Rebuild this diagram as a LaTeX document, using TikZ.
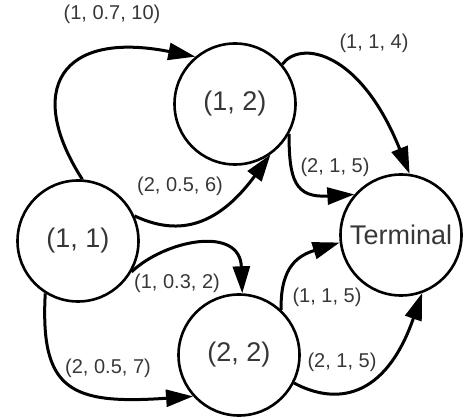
\documentclass[tikz,border=0pt]{standalone}
\usepackage{fontspec}
\setmainfont{Liberation Sans}
\usetikzlibrary{arrows.meta}
\definecolor{txt}{RGB}{55,55,55}
\tikzset{
  state/.style={circle, draw=black, line width=2.6pt, minimum size=121pt,
    inner sep=0pt, text=txt, font=\fontsize{27}{32}\selectfont},
  lbl/.style={inner sep=0pt, text=txt, font=\fontsize{20}{24}\selectfont},
  trans/.style={line width=3pt, draw=black,
    -{Triangle[length=27pt,width=17pt]}},
}
\begin{document}
\begin{tikzpicture}[x=1pt,y=-1pt]
\useasboundingbox (0,0) rectangle (463,419);

% states
\node[state] (n11) at (78,241) {(1, 1)};
\node[state] (n12) at (235,104) {(1, 2)};
\node[state] (n22) at (239,355) {(2, 2)};
\node[state] (nT)  at (401,235) {Terminal};

% transitions
\draw[trans] (n11.86) .. controls (25,90) and (60,30) .. (n12.130);
\draw[trans] (n11.24) .. controls (175,235) and (215,230) .. (n12.-55);
\draw[trans] (n12.40) .. controls (300,40) and (360,50) .. (nT.82);
\draw[trans] (n12.-29) .. controls (289,180) and (295,198) .. (nT.139);
\draw[trans] (n11.-30) .. controls (165,240) and (240,225) .. (n22.87);
\draw[trans] (n11.238) .. controls (40,390) and (70,405) .. (n22.222);
\draw[trans] (n22.47) .. controls (280,265) and (300,255) .. (nT.187);
\draw[trans] (n22.-27) .. controls (335,405) and (385,400) .. (nT.-70);

% transition labels
\node[lbl] (l1) at (112,14)  {(1, 0.7, 10)};
\node[lbl] (l2) at (180,186) {(2, 0.5, 6)};
\node[lbl] (l3) at (374,43)  {(1, 1, 4)};
\node[lbl] (l4) at (335,167) {(2, 1, 5)};
\node[lbl] (l5) at (177,283) {(1, 0.3, 2)};
\node[lbl] (l6) at (108,368) {(2, 0.5, 7)};
\node[lbl] (l7) at (327,297) {(1, 1, 5)};
\node[lbl] (l8) at (342,362) {(2, 1, 5)};
\end{tikzpicture}
\end{document}
